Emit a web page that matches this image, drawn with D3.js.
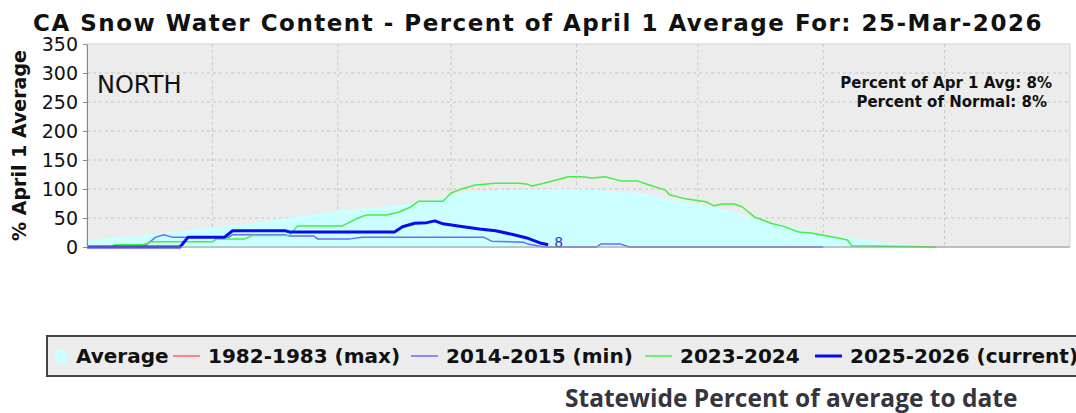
<!DOCTYPE html>
<html>
<head>
<meta charset="utf-8">
<script src="https://cdn.jsdelivr.net/npm/d3@7"></script>
<style>
  body { margin: 0; background: #fff; }
  svg { display: block; }
</style>
</head>
<body>
<div id="chart"></div>
<script>
// series values, [date, % of Apr 1 avg]
const average = [
  ["2025-12-01", 12], ["2025-12-21", 25], ["2026-01-10", 40], ["2026-01-25", 55],
  ["2026-02-01", 63], ["2026-02-16", 72], ["2026-02-25", 81], ["2026-03-01", 90],
  ["2026-03-05", 95], ["2026-03-13", 98], ["2026-04-01", 100], ["2026-04-09", 97],
  ["2026-04-17", 93], ["2026-04-25", 81], ["2026-05-01", 74], ["2026-05-08", 64],
  ["2026-05-16", 47], ["2026-05-25", 33], ["2026-06-02", 19], ["2026-06-09", 15],
  ["2026-06-17", 7], ["2026-06-25", 2], ["2026-07-01", 0]
];

const max8283 = []; // 1982-1983 has no values drawn for this region

const min1415 = [
  ["2025-12-01", 0], ["2025-12-15", 0], ["2025-12-18", 17], ["2025-12-20", 21],
  ["2025-12-22", 17], ["2026-01-05", 17], ["2026-01-06", 21], ["2026-01-19", 21],
  ["2026-01-20", 19], ["2026-01-26", 19], ["2026-01-27", 14], ["2026-02-04", 14],
  ["2026-02-07", 17], ["2026-03-09", 17], ["2026-03-11", 10], ["2026-03-19", 8],
  ["2026-03-20", 5], ["2026-03-24", 0], ["2026-04-06", 0], ["2026-04-07", 5],
  ["2026-04-12", 5], ["2026-04-14", 0], ["2026-06-01", 0]
];

const wy2324 = [
  ["2025-12-01", 0], ["2025-12-07", 0], ["2025-12-08", 4], ["2025-12-15", 4],
  ["2025-12-17", 9], ["2026-01-01", 9], ["2026-01-02", 14], ["2026-01-09", 14],
  ["2026-01-11", 20], ["2026-01-20", 20], ["2026-01-22", 36], ["2026-02-02", 36],
  ["2026-02-04", 43], ["2026-02-06", 50], ["2026-02-08", 55], ["2026-02-13", 55],
  ["2026-02-16", 60], ["2026-02-19", 69], ["2026-02-21", 79], ["2026-02-27", 79],
  ["2026-03-01", 93], ["2026-03-04", 101], ["2026-03-07", 107], ["2026-03-12", 110],
  ["2026-03-18", 110], ["2026-03-20", 108], ["2026-03-21", 105], ["2026-03-24", 110],
  ["2026-03-30", 121], ["2026-04-02", 121], ["2026-04-05", 119], ["2026-04-08", 121],
  ["2026-04-12", 114], ["2026-04-16", 114], ["2026-04-19", 107], ["2026-04-23", 98],
  ["2026-04-24", 90], ["2026-04-28", 83], ["2026-05-03", 78], ["2026-05-05", 71],
  ["2026-05-07", 74], ["2026-05-10", 74], ["2026-05-12", 69], ["2026-05-15", 52],
  ["2026-05-19", 41], ["2026-05-22", 36], ["2026-05-26", 26], ["2026-05-29", 24],
  ["2026-06-02", 19], ["2026-06-05", 15], ["2026-06-07", 12], ["2026-06-08", 2],
  ["2026-06-22", 1], ["2026-06-29", 0]
];

const wy2526 = [
  ["2025-12-01", 0], ["2025-12-24", 0], ["2025-12-26", 17], ["2026-01-04", 17],
  ["2026-01-06", 28], ["2026-01-19", 28], ["2026-01-20", 26], ["2026-02-15", 26],
  ["2026-02-17", 35], ["2026-02-20", 41], ["2026-02-23", 42], ["2026-02-25", 45],
  ["2026-02-27", 40], ["2026-03-04", 35], ["2026-03-08", 31], ["2026-03-12", 28],
  ["2026-03-16", 22], ["2026-03-20", 15], ["2026-03-23", 7], ["2026-03-25", 4]
];

const yTicks = [0, 50, 100, 150, 200, 250, 300, 350];
const legendLabels = ["Average", "1982-1983 (max)", "2014-2015 (min)", "2023-2024", "2025-2026 (current)"];
const titleText = "CA Snow Water Content - Percent of April 1 Average For: 25-Mar-2026";
const regionName = "NORTH";
const pctAvg = 8;
const pctNormal = 8;
const lastLabel = "8";

const width = 1076, height = 413;
const plot = { left: 87, right: 1070, top: 44, bottom: 247 };
const parse = d3.timeParse("%Y-%m-%d");

const svg = d3.select("#chart").append("svg")
  .attr("width", width)
  .attr("height", height);

const x = d3.scaleTime()
  .domain([parse("2025-12-01"), parse("2026-08-01")])
  .range([plot.left, plot.right]);
const y = d3.scaleLinear()
  .domain([0, 350])
  .range([plot.bottom, plot.top]);

// title
svg.append("text")
  .attr("x", 33)
  .attr("y", 31)
  .style("font-family", "DejaVu Sans")
  .style("font-weight", "bold")
  .style("font-size", "23px")
  .style("letter-spacing", "1.5px")
  .attr("fill", "#111")
  .text(titleText);

// plot background
svg.append("rect")
  .attr("x", plot.left)
  .attr("y", plot.top)
  .attr("width", plot.right - plot.left)
  .attr("height", plot.bottom - plot.top)
  .attr("fill", "#ececec")
  .attr("stroke", "#d4d4d4");

// grid
const grid = svg.append("g").attr("id", "grid");
grid.selectAll(".hgrid")
  .data(yTicks.filter(d => d > 0 && d < 350))
  .enter()
  .append("line")
  .attr("x1", plot.left)
  .attr("x2", plot.right)
  .attr("y1", d => y(d))
  .attr("y2", d => y(d))
  .attr("stroke", "#c6c6c6")
  .attr("stroke-dasharray", "3,3");
grid.selectAll(".vgrid")
  .data(d3.timeMonth.range(parse("2026-01-01"), parse("2026-08-01")))
  .enter()
  .append("line")
  .attr("x1", d => x(d))
  .attr("x2", d => x(d))
  .attr("y1", plot.top)
  .attr("y2", plot.bottom)
  .attr("stroke", "#c6c6c6")
  .attr("stroke-dasharray", "3,3");

// average area
const area = d3.area()
  .x(d => x(parse(d[0])))
  .y0(y(0))
  .y1(d => y(d[1]));
svg.append("path")
  .datum(average)
  .attr("d", area)
  .attr("fill", "#ccffff");

const line = d3.line()
  .x(d => x(parse(d[0])))
  .y(d => y(d[1]));

const series = [
  { data: max8283, color: "#ff6666", width: 1.5 },
  { data: min1415, color: "#6a6aff", width: 1.5 },
  { data: wy2324, color: "#44ee44", width: 1.5 },
  { data: wy2526, color: "#0a0aee", width: 3 }
];
svg.append("g").attr("id", "lines")
  .selectAll("path")
  .data(series.filter(s => s.data.length))
  .enter()
  .append("path")
  .attr("d", s => line(s.data))
  .attr("fill", "none")
  .attr("stroke", s => s.color)
  .attr("stroke-width", s => s.width)
  .attr("stroke-linejoin", "round");

// end label for the current year
const last = wy2526[wy2526.length - 1];
svg.append("text")
  .attr("x", x(parse(last[0])) + 6)
  .attr("y", plot.bottom)
  .style("font-family", "DejaVu Sans")
  .style("font-size", "14px")
  .attr("fill", "#3535d0")
  .text(lastLabel);

// axes
const yAxis = svg.append("g")
  .attr("transform", `translate(${plot.left},0)`)
  .call(d3.axisLeft(y).tickValues(yTicks).tickSize(4).tickPadding(5).tickSizeOuter(0));
yAxis.select(".domain").attr("stroke", "#888");
yAxis.selectAll(".tick line").attr("stroke", "#888");
yAxis.selectAll(".tick text")
  .style("font-family", "DejaVu Sans")
  .style("font-size", "19px")
  .attr("fill", "#111");

svg.append("line")
  .attr("x1", plot.left)
  .attr("x2", plot.right)
  .attr("y1", plot.bottom)
  .attr("y2", plot.bottom)
  .attr("stroke", "#999");

svg.append("text")
  .attr("transform", `translate(26,${(plot.top + plot.bottom) / 2}) rotate(-90)`)
  .attr("text-anchor", "middle")
  .style("font-family", "DejaVu Sans")
  .style("font-weight", "bold")
  .style("font-size", "19px")
  .attr("fill", "#111")
  .text("% April 1 Average");

// annotations inside the plot
svg.append("text")
  .attr("x", 97)
  .attr("y", 93)
  .style("font-family", "DejaVu Sans")
  .style("font-size", "24px")
  .attr("fill", "#111")
  .text(regionName);

const notes = svg.append("g")
  .style("font-family", "DejaVu Sans")
  .style("font-weight", "bold")
  .style("font-size", "15px")
  .attr("fill", "#111")
  .attr("text-anchor", "end");
notes.append("text").attr("x", 1052).attr("y", 88).text(`Percent of Apr 1 Avg: ${pctAvg}%`);
notes.append("text").attr("x", 1047).attr("y", 107).text(`Percent of Normal: ${pctNormal}%`);

// legend
const legend = svg.append("g").attr("id", "legend");
legend.append("rect")
  .attr("x", 47)
  .attr("y", 336)
  .attr("width", 1040)
  .attr("height", 40)
  .attr("fill", "#ececec")
  .attr("stroke", "#444")
  .attr("stroke-width", 2);

const legendX = [55, 173, 411, 645, 815];
const legendSwatch = [
  { type: "area", color: "#ccffff" },
  { type: "line", color: "#ff6666", width: 1.5 },
  { type: "line", color: "#6a6aff", width: 1.5 },
  { type: "line", color: "#44ee44", width: 1.5 },
  { type: "line", color: "#0a0aee", width: 3 }
];
const items = legend.selectAll(".item")
  .data(legendLabels)
  .enter()
  .append("g")
  .attr("class", "item")
  .attr("transform", (d, i) => `translate(${legendX[i]},356)`);
items.each(function (d, i) {
  const g = d3.select(this);
  const sw = legendSwatch[i];
  if (sw.type === "area") {
    g.append("path")
      .attr("d", "M0,7 L0,0 Q0,-7 6,-7 Q12,-7 12,0 L12,7 Z")
      .attr("fill", sw.color);
  } else {
    g.append("line")
      .attr("x1", 0).attr("x2", 27)
      .attr("stroke", sw.color)
      .attr("stroke-width", sw.width);
  }
  g.append("text")
    .attr("x", sw.type === "area" ? 21 : 35)
    .attr("y", 7)
    .style("font-family", "DejaVu Sans")
    .style("font-weight", "bold")
    .style("font-size", "20px")
    .attr("fill", "#111")
    .text(d);
});

svg.append("text")
  .attr("x", 565)
  .attr("y", 407)
  .style("font-family", "Open Sans")
  .style("font-weight", "bold")
  .style("font-size", "24.5px")
  .attr("fill", "#35353f")
  .text("Statewide Percent of average to date");
</script>
</body>
</html>
